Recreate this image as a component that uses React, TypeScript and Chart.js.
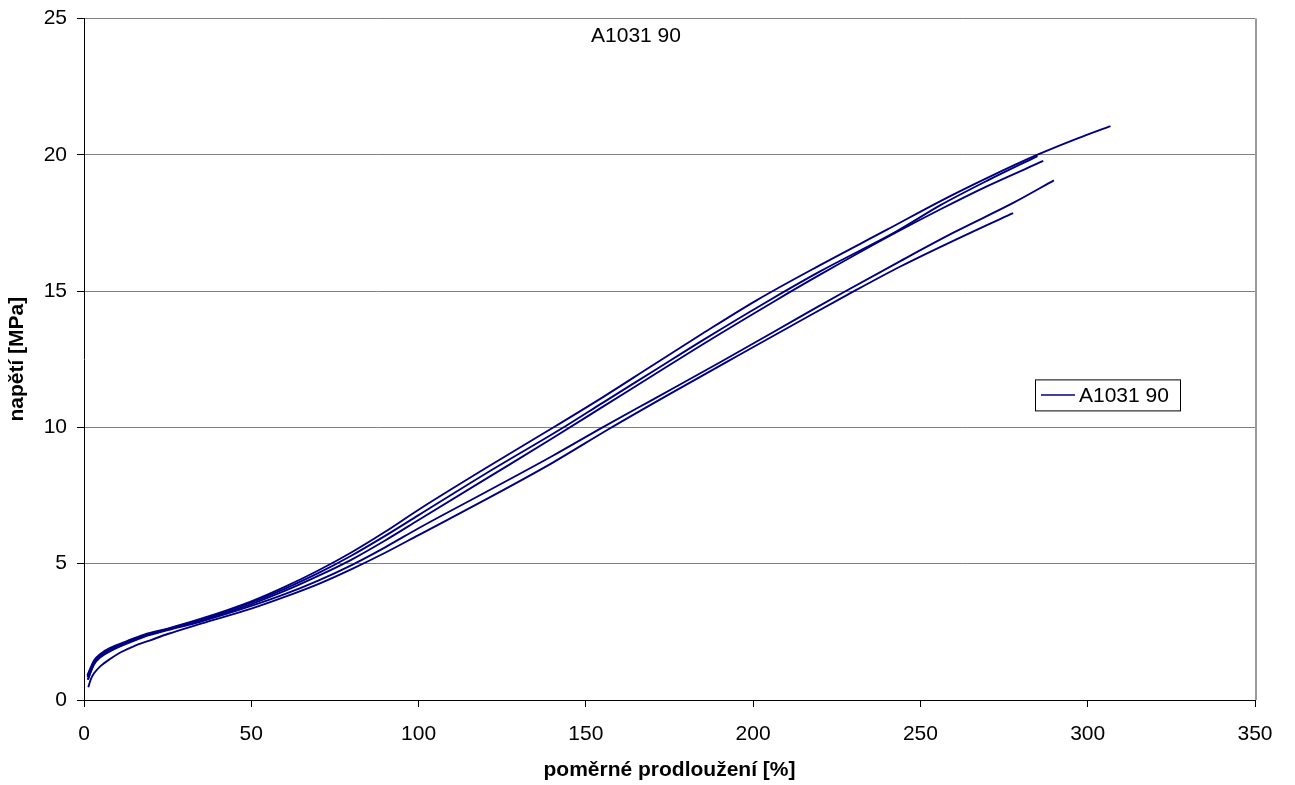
import React, { useEffect, useRef } from "react";
import { Chart, registerables } from "chart.js";

Chart.register(...registerables);

const chartTitle = "A1031 90";
const legendLabel = "A1031 90";
const xAxisTitle = "poměrné prodloužení [%]";
const yAxisTitle = "napětí [MPa]";

const xMin = 0;
const xMax = 350;
const xStep = 50;
const yMin = 0;
const yMax = 25;
const yStep = 5;

const seriesColor = "#000080";

// Curve A (highest, longest)
const strainA = [1.0, 3, 5, 8, 13, 18, 25, 35, 50, 60, 70, 80, 90, 100, 120, 141, 155, 170, 185, 201, 220, 240, 256, 270, 285, 297, 306.8];
const stressA = [0.9, 1.45, 1.7, 1.92, 2.17, 2.4, 2.62, 2.98, 3.62, 4.15, 4.75, 5.42, 6.17, 6.98, 8.5, 10.05, 11.1, 12.28, 13.45, 14.66, 15.95, 17.25, 18.3, 19.15, 20.0, 20.6, 21.05];

// Curve E (second upper)
const strainE = [1.2, 3, 5, 8, 13, 18, 25, 35, 50, 60, 70, 80, 90, 100, 120, 144, 155, 170, 185, 204, 220, 243, 256, 270, 285];
const stressE = [0.75, 1.35, 1.62, 1.85, 2.12, 2.36, 2.6, 2.95, 3.58, 4.08, 4.65, 5.3, 6.02, 6.78, 8.3, 10.05, 10.9, 12.05, 13.2, 14.6, 15.72, 17.2, 18.15, 19.05, 19.95];

// Curve B (third upper)
const strainB = [1.0, 3, 5, 8, 13, 18, 25, 35, 50, 60, 70, 80, 90, 100, 120, 140, 155, 170, 185, 206, 220, 242, 256, 270, 286.7];
const stressB = [0.85, 1.4, 1.66, 1.88, 2.14, 2.37, 2.6, 2.92, 3.52, 4.0, 4.55, 5.15, 5.85, 6.6, 8.1, 9.6, 10.75, 11.9, 13.05, 14.6, 15.6, 17.1, 18.0, 18.85, 19.77];

// Curve C (upper of lower pair)
const strainC = [1.1, 3, 5, 8, 13, 18, 25, 35, 50, 60, 70, 80, 90, 100, 120, 140, 155, 170, 190, 214, 226.5, 244, 260, 278, 289.9];
const stressC = [0.75, 1.3, 1.58, 1.8, 2.08, 2.32, 2.56, 2.88, 3.45, 3.88, 4.38, 4.95, 5.6, 6.3, 7.62, 8.95, 10.0, 11.02, 12.38, 14.05, 14.92, 16.1, 17.15, 18.25, 19.06];

// Curve D (lowest, shortest)
const strainD = [1.3, 2, 3, 5, 8, 11, 15, 20, 25, 35, 50, 60, 70, 80, 90, 100, 120, 140, 157, 175, 195, 214, 228, 244, 266, 277.7];
const stressD = [0.47, 0.75, 0.98, 1.25, 1.52, 1.75, 1.98, 2.2, 2.42, 2.8, 3.35, 3.78, 4.25, 4.8, 5.4, 6.05, 7.35, 8.7, 9.95, 11.22, 12.6, 13.9, 14.85, 15.9, 17.2, 17.86];

const seriesList = [
  { label: legendLabel, strain: strainA, stress: stressA },
  { label: legendLabel, strain: strainE, stress: stressE },
  { label: legendLabel, strain: strainB, stress: stressB },
  { label: legendLabel, strain: strainC, stress: stressC },
  { label: legendLabel, strain: strainD, stress: stressD },
];

const FONT = "'Liberation Sans', Arial, sans-serif";

const overlayPlugin = {
  id: "overlay",
  afterDraw(chart: any) {
    const { ctx, chartArea: ca } = chart;
    ctx.save();
    // right border of plot area
    ctx.strokeStyle = "#9a9a9a";
    ctx.lineWidth = 2;
    ctx.beginPath();
    ctx.moveTo(ca.right + 1, ca.top);
    ctx.lineTo(ca.right + 1, ca.bottom);
    ctx.stroke();

    // title inside plot area
    ctx.fillStyle = "#000";
    ctx.font = `21px ${FONT}`;
    ctx.textAlign = "center";
    ctx.textBaseline = "alphabetic";
    ctx.fillText(chartTitle, ca.left + 552, ca.top + 24);

    // legend box
    const bx = ca.right - 220;
    const by = ca.top + 361;
    const bw = 145;
    const bh = 31;
    ctx.fillStyle = "#fff";
    ctx.fillRect(bx, by, bw, bh);
    ctx.strokeStyle = "#000";
    ctx.lineWidth = 1;
    ctx.strokeRect(bx + 0.5, by + 0.5, bw, bh);
    ctx.strokeStyle = seriesColor;
    ctx.lineWidth = 1.5;
    ctx.beginPath();
    ctx.moveTo(bx + 6, by + 15.5);
    ctx.lineTo(bx + 40, by + 15.5);
    ctx.stroke();
    ctx.fillStyle = "#000";
    ctx.textAlign = "left";
    ctx.fillText(legendLabel, bx + 44, by + 23);
    ctx.restore();
  },
};

export default function App() {
  const canvasRef = useRef<HTMLCanvasElement | null>(null);

  useEffect(() => {
    document.body.style.margin = "0";
    const canvas = canvasRef.current;
    if (!canvas) return;
    const chart = new Chart(canvas, {
      type: "scatter",
      data: {
        datasets: seriesList.map((s) => ({
          label: s.label,
          data: s.strain.map((x, i) => ({ x, y: s.stress[i] })),
          showLine: true,
          borderColor: seriesColor,
          backgroundColor: seriesColor,
          borderWidth: 1.9,
          pointRadius: 0,
          pointHoverRadius: 0,
          cubicInterpolationMode: "monotone",
        })),
      },
      plugins: [overlayPlugin],
      options: {
        animation: false,
        responsive: false,
        maintainAspectRatio: false,
        layout: { padding: { left: 0, right: 40, top: 16, bottom: 0 } },
        plugins: {
          legend: { display: false },
          tooltip: { enabled: false },
          title: { display: false },
        },
        scales: {
          x: {
            type: "linear",
            min: xMin,
            max: xMax,
            afterFit: (scale: any) => {
              scale.height = 85;
            },
            ticks: {
              stepSize: xStep,
              padding: 15,
              color: "#000",
              font: { family: FONT, size: 21 },
            },
            grid: {
              drawOnChartArea: false,
              drawTicks: true,
              tickLength: 7,
              tickColor: "#000",
            },
            border: { display: true, color: "#000", width: 1 },
            title: {
              display: true,
              text: xAxisTitle,
              color: "#000",
              font: { family: FONT, size: 21, weight: "bold" },
              padding: { top: 0, bottom: 2 },
            },
          },
          y: {
            type: "linear",
            min: yMin,
            max: yMax,
            afterFit: (scale: any) => {
              scale.width = 84;
            },
            ticks: {
              stepSize: yStep,
              padding: 10,
              color: "#000",
              font: { family: FONT, size: 21, lineHeight: 0.8 },
            },
            grid: {
              drawOnChartArea: true,
              drawTicks: true,
              tickLength: 7,
              tickColor: "#000",
              color: (ctx: any) => (ctx.tick && ctx.tick.value === 0 ? "#000" : "#808080"),
              lineWidth: 1,
            },
            border: { display: true, color: "#000", width: 1 },
            title: {
              display: true,
              text: yAxisTitle,
              color: "#000",
              font: { family: FONT, size: 21, weight: "bold" },
              padding: { top: 5, bottom: 0 },
            },
          },
        },
      },
    } as any);
    return () => chart.destroy();
  }, []);

  return (
    <div style={{ width: 1295, height: 785, position: "relative" }}>
      <canvas ref={canvasRef} width={1295} height={785} style={{ display: "block" }} />
    </div>
  );
}
